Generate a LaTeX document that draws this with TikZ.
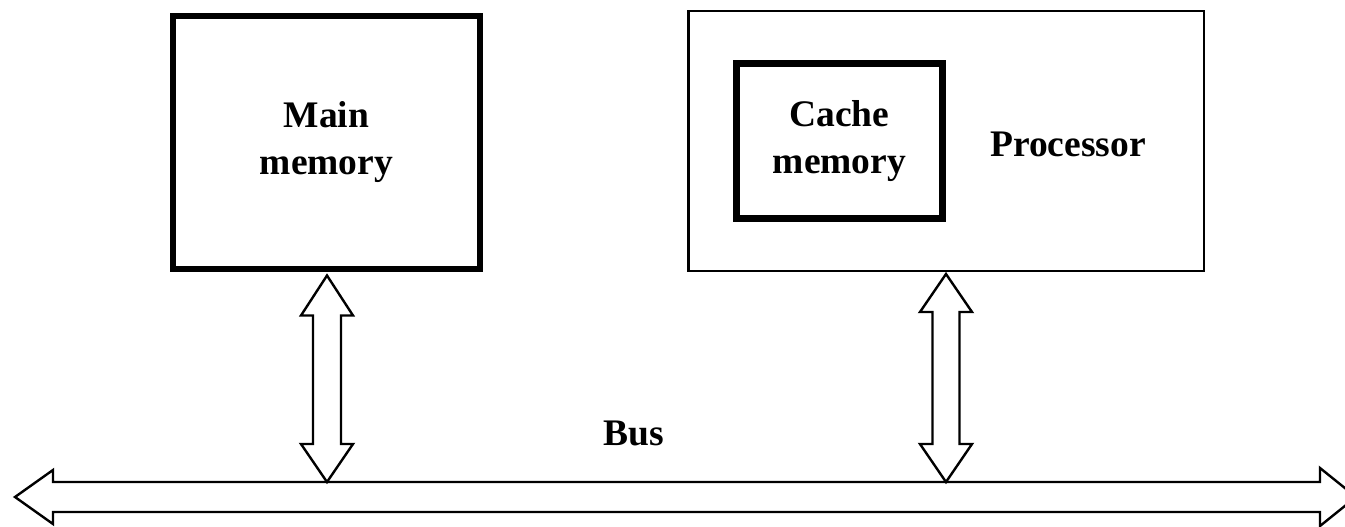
\documentclass[tikz,border=0pt]{standalone}
\usepackage{fontspec}
\setmainfont{Liberation Serif}
\usetikzlibrary{calc}
\begin{document}
\begin{tikzpicture}[x=1pt,y=-1pt,
  lbl/.style={font=\bfseries\fontsize{37.5}{47}\selectfont, align=center, inner sep=0pt},
  heavybox/.style={draw, line width=6pt, inner sep=0pt, lbl},
  cachebox/.style={draw, line width=7pt, inner sep=0pt, lbl},
  lightbox/.style={draw, line width=2.5pt, inner sep=0pt},
  arrowline/.style={draw, line width=2.4pt, line join=miter, fill=white}]
\useasboundingbox (0,0) rectangle (1345,527);

% boxes
\node[heavybox, minimum width=307pt, minimum height=253pt] (mm) at (326.5,142.5) {Main\\memory};
\node[lightbox, minimum width=515.5pt, minimum height=259.5pt] (proc) at (946,141) {};
\node[cachebox, minimum width=206pt, minimum height=155pt] (cache) at (839.5,141) {Cache\\memory};
\node[lbl, anchor=base west] (plbl) at (990,157) {Processor};
\node[lbl, anchor=base west] (buslbl) at (603,445) {Bus};

% bus
\coordinate (busL) at (15,497);
\coordinate (busR) at (1356,497);
\coordinate (bustop) at (0,482);
\draw[arrowline] let \p1=(busL), \p2=(busR) in
  (\x1,\y1) -- (\x1+38,\y1+27) -- (\x1+38,\y1+15) -- (\x2-36,\y2+15) -- (\x2-36,\y2+29)
  -- (\x2,\y2) -- (\x2-36,\y2-29) -- (\x2-36,\y2-15) -- (\x1+38,\y1-15) -- (\x1+38,\y1-27) -- cycle;

% vertical double arrows
\coordinate (mmtop) at ($(mm.south)+(0.5,3.5)$);
\coordinate (mmbot) at (mmtop |- bustop);
\coordinate (prtop) at ($(proc.south)+(0,2)$);
\coordinate (prbot) at (prtop |- bustop);
\draw[arrowline] let \p1=(mmtop), \p2=(mmbot) in
  (\x1,\y1) -- (\x1+26,\y1-40) -- (\x1+14,\y1-40) -- (\x2+14,\y2+38) -- (\x2+26,\y2+38)
  -- (\x2,\y2) -- (\x2-26,\y2+38) -- (\x2-14,\y2+38) -- (\x1-14,\y1-40) -- (\x1-26,\y1-40) -- cycle;
\draw[arrowline] let \p1=(prtop), \p2=(prbot) in
  (\x1,\y1) -- (\x1+26,\y1-38) -- (\x1+13.5,\y1-38) -- (\x2+13.5,\y2+38) -- (\x2+26,\y2+38)
  -- (\x2,\y2) -- (\x2-26,\y2+38) -- (\x2-13.5,\y2+38) -- (\x1-13.5,\y1-38) -- (\x1-26,\y1-38) -- cycle;
\end{tikzpicture}
\end{document}
